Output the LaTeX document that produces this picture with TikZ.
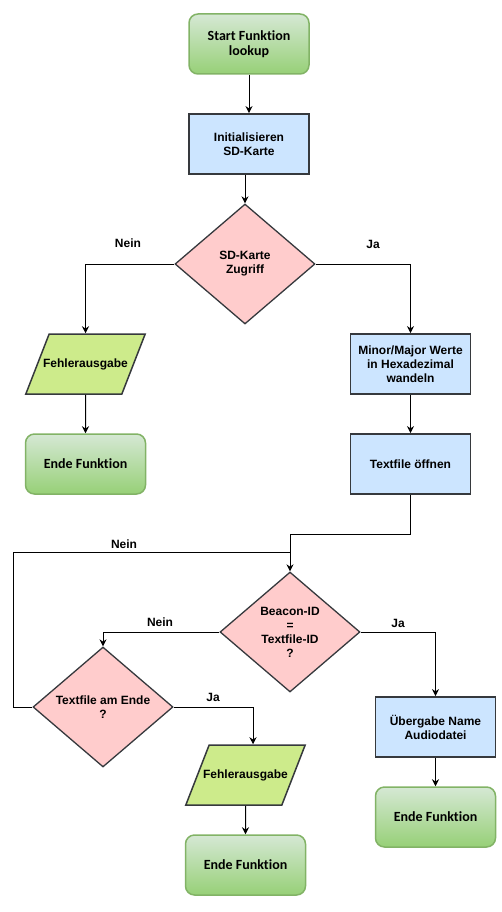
\documentclass[tikz,border=0pt]{standalone}
\usepackage{fontspec}
\setmainfont{Liberation Sans}
\newfontfamily\termfont[Ligatures=NoCommon]{Carlito}
\usepackage{tikz}
\usetikzlibrary{positioning,shapes.geometric,arrows.meta}
\tikzset{>={Stealth[length=7pt,width=7pt]}}

\definecolor{termtop}{HTML}{D5E8D4}
\definecolor{termbot}{HTML}{97D077}
\definecolor{termline}{HTML}{82B366}
\definecolor{procfill}{HTML}{CCE5FF}
\definecolor{decfill}{HTML}{FFCCCC}
\definecolor{iofill}{HTML}{CDEB8B}
\definecolor{edge}{HTML}{36393D}

\tikzset{
  term/.style={rectangle, rounded corners=9pt, draw=termline, line width=1.5pt,
    top color=termtop, bottom color=termbot, minimum width=120pt, minimum height=60pt,
    align=center, font=\termfont\bfseries\fontsize{14}{15}\selectfont},
  proc/.style={rectangle, draw=edge, fill=procfill, line width=1.8pt,
    minimum width=120pt, minimum height=60pt, align=center,
    font=\bfseries\fontsize{12}{14}\selectfont},
  decide/.style={diamond, draw=edge, fill=decfill, line width=1.3pt, aspect=1.167,
    minimum width=140pt, minimum height=120pt, inner sep=0pt, align=center,
    font=\bfseries\fontsize{12}{14}\selectfont},
  io/.style={trapezium, trapezium left angle=68.5, trapezium right angle=111.5,
    trapezium stretches body=true, draw=edge, fill=iofill, line width=1.5pt,
    minimum height=60pt, inner xsep=-6pt, inner ysep=24pt,
    font=\bfseries\fontsize{12}{14}\selectfont},
  flow/.style={->, line width=1pt},
  lbl/.style={font=\bfseries\fontsize{12}{14}\selectfont}
}

\begin{document}
\begin{tikzpicture}[x=1pt,y=-1pt]
\useasboundingbox (0,0) rectangle (502,912);
% main column
\node[term] (start) at (249,44) {Start Funktion\\lookup};
\node[proc] (init) at (249,144) {Initialisieren\\SD-Karte};
\node[decide] (sdcheck) at (245,264) {SD-Karte\\Zugriff};
% error branch
\node[io] (err1) at (85.5,364) {Fehlerausgabe};
\node[term] (end1) at (85.5,464) {Ende Funktion};
% success branch
\node[proc] (conv) at (410.5,364) {Minor/Major Werte\\in Hexadezimal\\wandeln};
\node[proc] (open) at (410.5,464) {Textfile öffnen};
% search loop
\node[decide] (idcheck) at (290,632) {Beacon-ID\\=\\Textfile-ID\\?};
\node[decide] (eofcheck) at (103,707) {Textfile am Ende\\?};
\node[io] (err2) at (245.5,775) {Fehlerausgabe};
\node[term] (end2) at (245.5,865) {Ende Funktion};
\node[proc] (pass) at (435.5,727) {Übergabe Name\\Audiodatei};
\node[term] (end3) at (435.5,817) {Ende Funktion};
\coordinate (merge) at (290,552);
\coordinate (loop) at (13,552);

\draw[flow] (start) -- (init);
\draw[flow] (init.south -| sdcheck.north) -- (sdcheck.north);
\draw[flow] (sdcheck.west) -| (err1.north);
\draw[flow] (err1) -- (end1);
\draw[flow] (sdcheck.east) -| (conv.north);
\draw[flow] (conv) -- (open);
\draw[flow] (open.south) -- ++(0,40) -| (idcheck.north);
\draw[line width=1pt] (eofcheck.west) -| (loop) -- (merge);
\draw[flow] (idcheck.west) -| (eofcheck.north);
\draw[flow] (eofcheck.east) -| ([xshift=7.5pt]err2.north);
\draw[flow] (err2) -- (end2);
\draw[flow] (idcheck.east) -| (pass.north);
\draw[flow] (pass) -- (end3);

\node[lbl] (nein1) at (128,243) {Nein};
\node[lbl] (ja1) at (373,244) {Ja};
\node[lbl] (nein2) at (124,544) {Nein};
\node[lbl] (nein3) at (160,622) {Nein};
\node[lbl] (ja2) at (398,623) {Ja};
\node[lbl] (ja3) at (213,697) {Ja};
\end{tikzpicture}
\end{document}
